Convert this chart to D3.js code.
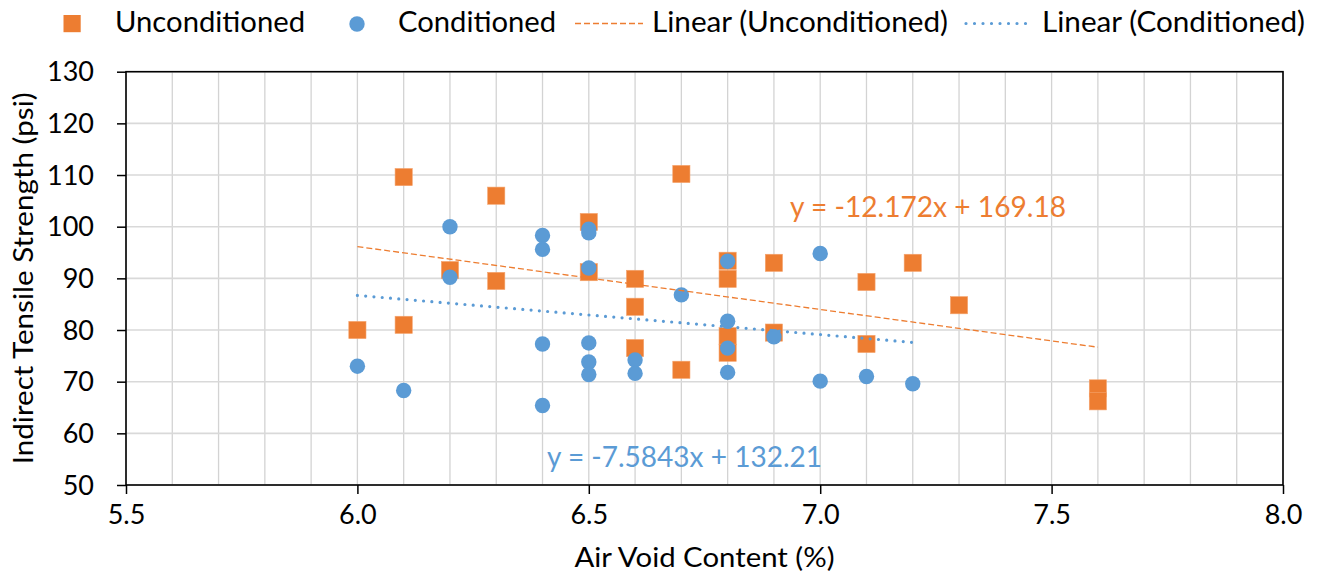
<!DOCTYPE html>
<html>
<head>
<meta charset="utf-8">
<script src="https://cdn.jsdelivr.net/npm/d3@7"></script>
<style>
  html, body { margin: 0; padding: 0; background: #fff; }
  svg { display: block; }
  text { font-family: Lato, "Open Sans", "DejaVu Sans", sans-serif; }
</style>
</head>
<body>
<svg id="chart" width="1321" height="575"></svg>
<script>
// ---- data ----
const uncondX = [6.0,6.1,6.1,6.2,6.3,6.3,6.5,6.5,6.6,6.6,6.6,6.7,6.7,6.8,6.8,6.8,6.8,6.9,6.9,7.1,7.1,7.2,7.3,7.6,7.6];
const uncondY = [80.0,109.6,81.0,91.6,106.0,89.5,100.9,91.2,89.9,84.5,76.5,110.2,72.3,93.4,89.9,78.8,75.6,93.0,79.5,89.3,77.3,93.0,84.8,68.7,66.2];
const condX = [6.0,6.1,6.2,6.2,6.4,6.4,6.4,6.4,6.5,6.5,6.5,6.5,6.5,6.5,6.6,6.6,6.7,6.8,6.8,6.8,6.8,6.9,7.0,7.0,7.1,7.2];
const condY = [73.0,68.3,100.0,90.2,98.3,95.6,77.3,65.4,99.5,98.8,92.0,77.5,73.8,71.4,74.2,71.6,86.8,93.3,81.7,76.5,71.8,78.7,94.8,70.1,71.0,69.6];
// trendlines: [slope, intercept], fitted range
const uncondTrend = [-12.172, 169.18];
const condTrend = [-7.5843, 132.21];
const uncondRange = [6.0, 7.6];
const condRange = [6.0, 7.2];
const seriesNames = ["Unconditioned", "Conditioned", "Linear (Unconditioned)", "Linear (Conditioned)"];
const eqLabels = ["y = -12.172x + 169.18", "y = -7.5843x + 132.21"];
const xTicks = [5.5, 6.0, 6.5, 7.0, 7.5, 8.0];
const yTicks = [50, 60, 70, 80, 90, 100, 110, 120, 130];
const xMinorGrid = d3.range(55, 81).map(v => v / 10);
const xTitle = "Air Void Content (%)";
const yTitle = "Indirect Tensile Strength (psi)";

const ORANGE = "#ED7D31", BLUE = "#5B9BD5";

const svg = d3.select("#chart");
const L = 126, R = 1283, T = 71.7, B = 485;
const x = d3.scaleLinear().domain([5.5, 8.0]).range([L, R]);
const y = d3.scaleLinear().domain([50, 130]).range([B, T]);

function fit(sel, w) { sel.attr("textLength", w).attr("lengthAdjust", "spacingAndGlyphs"); return sel; }

// grid
const grid = svg.append("g");
grid.selectAll("line.v").data(xMinorGrid).join("line")
  .attr("x1", d => x(d)).attr("x2", d => x(d)).attr("y1", T).attr("y2", B)
  .attr("stroke", "#d3d3d3").attr("stroke-width", 1.3);
grid.selectAll("line.h").data(yTicks).join("line")
  .attr("x1", L).attr("x2", R).attr("y1", d => y(d)).attr("y2", d => y(d))
  .attr("stroke", "#d9d9d9").attr("stroke-width", 1.6);

// axes
const xAxis = d3.axisBottom(x).tickValues(xTicks).tickFormat(d3.format(".1f")).tickSize(9).tickPadding(12);
const yAxis = d3.axisLeft(y).tickValues(yTicks).tickFormat(d3.format("d")).tickSize(9).tickPadding(22);
const gx = svg.append("g").attr("transform", `translate(0,${B})`).call(xAxis);
const gy = svg.append("g").attr("transform", `translate(${L},0)`).call(yAxis);
[gx, gy].forEach(g => {
  g.select(".domain").remove();
  g.selectAll(".tick line").attr("stroke", "#000").attr("stroke-width", 1.5);
  g.selectAll(".tick text").attr("font-size", 27).attr("fill", "#000")
    .style("font-family", "Lato, 'Open Sans', sans-serif");
});
gx.selectAll(".tick text").attr("dy", "0.68em");
gy.selectAll(".tick text").attr("dy", "0.34em").attr("x", -32);

// frame
svg.append("rect").attr("x", L).attr("y", T).attr("width", R - L).attr("height", B - T)
  .attr("fill", "none").attr("stroke", "#000").attr("stroke-width", 1.6);

// points
svg.append("g").selectAll("rect").data(uncondX.map((v, i) => [v, uncondY[i]])).join("rect")
  .attr("x", d => x(d[0]) - 8.6).attr("y", d => y(d[1]) - 8.6)
  .attr("width", 17.2).attr("height", 17.2).attr("fill", ORANGE)
  .attr("stroke", "#f5a46e").attr("stroke-width", 0.6);
svg.append("g").selectAll("circle").data(condX.map((v, i) => [v, condY[i]])).join("circle")
  .attr("cx", d => x(d[0])).attr("cy", d => y(d[1])).attr("r", 7.7).attr("fill", BLUE);

// trendlines
const line = d3.line().x(d => x(d[0])).y(d => y(d[1]));
svg.append("path").datum(uncondRange.map(v => [v, uncondTrend[0] * v + uncondTrend[1]]))
  .attr("d", line).attr("fill", "none").attr("stroke", ORANGE).attr("stroke-width", 1.3)
  .attr("stroke-dasharray", "6 3");
svg.append("path").datum(condRange.map(v => [v, condTrend[0] * v + condTrend[1]]))
  .attr("d", line).attr("fill", "none").attr("stroke", BLUE).attr("stroke-width", 3.2)
  .attr("stroke-linecap", "round").attr("stroke-dasharray", "0 8.3");

// equations
fit(svg.append("text").attr("x", 790).attr("y", 216.5).attr("font-size", 29).attr("fill", ORANGE).text(eqLabels[0]), 276);
fit(svg.append("text").attr("x", 547).attr("y", 467).attr("font-size", 29).attr("fill", BLUE).text(eqLabels[1]), 275);

// axis titles
fit(svg.append("text").attr("x", (L + R) / 2).attr("y", 567).attr("text-anchor", "middle")
  .attr("font-size", 27).attr("fill", "#000").text(xTitle), 260);
fit(svg.append("text").attr("transform", `translate(33,${(T + B) / 2}) rotate(-90)`).attr("text-anchor", "middle")
  .attr("font-size", 27).attr("fill", "#000").text(yTitle), 372);

// legend
const lg = svg.append("g");
lg.append("rect").attr("x", 63.5).attr("y", 15).attr("width", 17.2).attr("height", 17.2).attr("fill", ORANGE);
fit(lg.append("text").attr("x", 115).attr("y", 32.3).attr("font-size", 28.5).attr("fill", "#000").text(seriesNames[0]), 190);
lg.append("circle").attr("cx", 357).attr("cy", 24).attr("r", 7.7).attr("fill", BLUE);
fit(lg.append("text").attr("x", 398).attr("y", 32.3).attr("font-size", 28.5).attr("fill", "#000").text(seriesNames[1]), 158);
lg.append("line").attr("x1", 575).attr("x2", 643).attr("y1", 23.5).attr("y2", 23.5)
  .attr("stroke", ORANGE).attr("stroke-width", 1.3).attr("stroke-dasharray", "6 3");
fit(lg.append("text").attr("x", 652).attr("y", 32.3).attr("font-size", 28.5).attr("fill", "#000").text(seriesNames[2]), 296);
lg.append("line").attr("x1", 966).attr("x2", 1034).attr("y1", 23.5).attr("y2", 23.5)
  .attr("stroke", BLUE).attr("stroke-width", 3.2).attr("stroke-linecap", "round").attr("stroke-dasharray", "0 8.5");
fit(lg.append("text").attr("x", 1042).attr("y", 32.3).attr("font-size", 28.5).attr("fill", "#000").text(seriesNames[3]), 263);
</script>
</body>
</html>
